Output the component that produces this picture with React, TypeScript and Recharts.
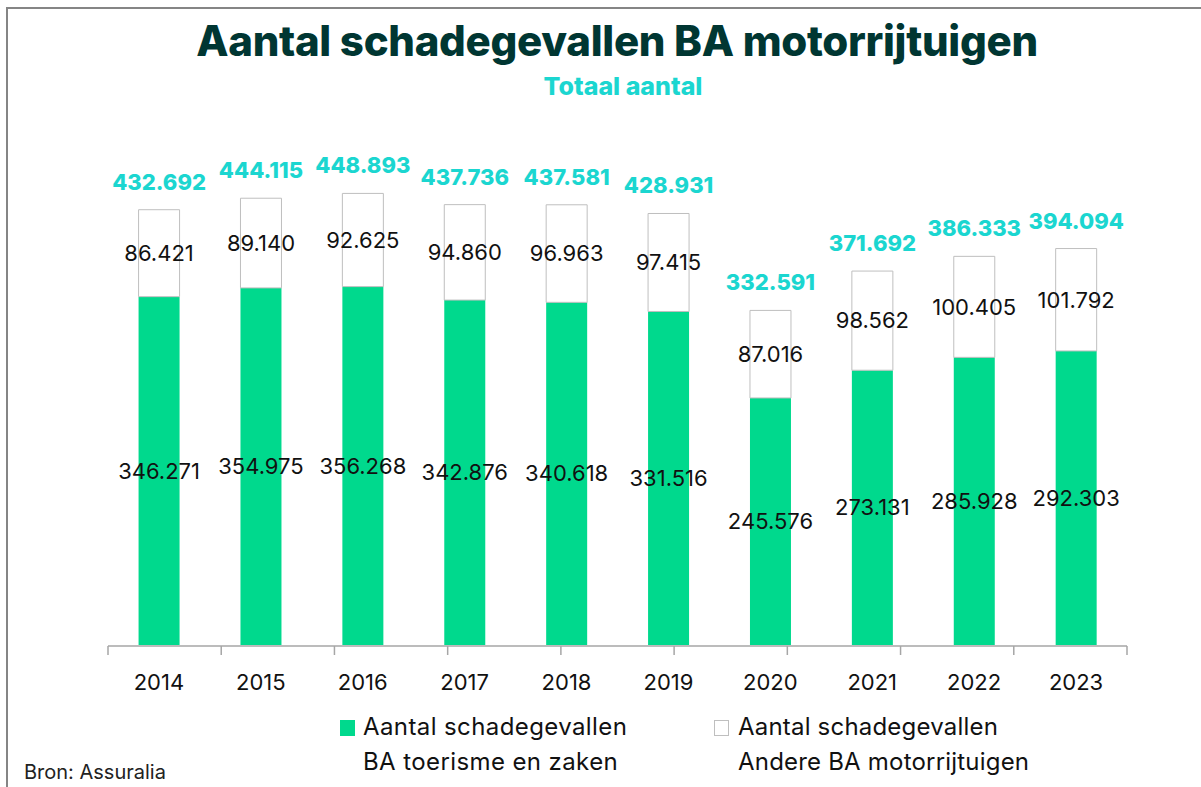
import { BarChart, Bar, XAxis, YAxis, LabelList } from "recharts";

// Aantal schadegevallen BA motorrijtuigen, 2014-2023 (bron: Assuralia)

const years = ["2014", "2015", "2016", "2017", "2018", "2019", "2020", "2021", "2022", "2023"];
const toerismeZaken = [346271, 354975, 356268, 342876, 340618, 331516, 245576, 273131, 285928, 292303];
const andereBA = [86421, 89140, 92625, 94860, 96963, 97415, 87016, 98562, 100405, 101792];
const totals = [432692, 444115, 448893, 437736, 437581, 428931, 332591, 371692, 386333, 394094];
const boundaryTicks = [0, 1, 2, 3, 4, 5, 6, 7, 8, 9, 10];

const data = years.map((year, i) => ({
  year,
  toerisme: toerismeZaken[i],
  andere: andereBA[i],
  total: totals[i],
}));

const GREEN = "#00D98D";
const CYAN = "#1BD6D0";
const DARK = "#003632";
const FONT = "Inter, 'Open Sans', sans-serif";

const fmt = (v: unknown) => String(v).replace(/\B(?=(\d{3})+(?!\d))/g, ".");

export default function App() {
  return (
    <div
      style={{
        position: "absolute",
        left: 0,
        top: 0,
        width: 1201,
        height: 787,
        overflow: "hidden",
        background: "#fff",
        fontFamily: FONT,
      }}
    >
      <div
        style={{
          position: "absolute",
          left: 6,
          top: 7,
          width: 1400,
          height: 1000,
          border: "2px solid #858585",
        }}
      />
      <div
        style={{
          position: "absolute",
          left: 0,
          width: 1234,
          top: 15,
          textAlign: "center",
          fontSize: 42,
          fontWeight: 800,
          color: DARK,
          letterSpacing: -0.3,
        }}
      >
        Aantal schadegevallen BA motorrijtuigen
      </div>
      <div
        style={{
          position: "absolute",
          left: 0,
          width: 1246,
          top: 71,
          textAlign: "center",
          fontSize: 25,
          fontWeight: 800,
          color: CYAN,
        }}
      >
        Totaal aantal
      </div>

      <div style={{ position: "absolute", left: 0, top: 0 }}>
        <BarChart
          width={1201}
          height={787}
          data={data}
          margin={{ top: 142, right: 74, bottom: 111, left: 108 }}
          barCategoryGap="30%"
        >
          <XAxis
            dataKey="year"
            height={1}
            axisLine={false}
            tickLine={false}
            tickSize={0}
            tickMargin={29}
            tick={{ fill: "#111", fontSize: 22, fontFamily: FONT }}
          />
          <XAxis
            xAxisId="edges"
            type="number"
            domain={[0, 10]}
            ticks={boundaryTicks}
            height={30}
            axisLine={{ stroke: "#A6A6A6", strokeWidth: 1.5 }}
            tickLine={{ stroke: "#A6A6A6", strokeWidth: 1.5 }}
            tickSize={9}
            tickFormatter={() => ""}
          />
          <YAxis hide domain={[0, 500000]} />
          <Bar dataKey="toerisme" stackId="a" fill={GREEN} isAnimationActive={false}>
            <LabelList
              dataKey="toerisme"
              position="center"
              formatter={fmt}
              fill="#111"
              fontSize={22}
              fontFamily={FONT}
            />
          </Bar>
          <Bar
            dataKey="andere"
            stackId="a"
            fill="#fff"
            stroke="#BFBFBF"
            strokeWidth={1}
            isAnimationActive={false}
          >
            <LabelList
              dataKey="andere"
              position="center"
              formatter={fmt}
              fill="#111"
              fontSize={22}
              fontFamily={FONT}
            />
            <LabelList
              dataKey="total"
              position="top"
              offset={20}
              formatter={fmt}
              fill={CYAN}
              fontSize={22}
              fontWeight={800}
              fontFamily={FONT}
            />
          </Bar>
        </BarChart>
      </div>

      <div style={{ position: "absolute", left: 340, top: 720, width: 15, height: 16, background: GREEN }} />
      <div
        style={{
          position: "absolute",
          left: 363,
          top: 709,
          fontSize: 24,
          letterSpacing: 0.4,
          lineHeight: "35px",
          color: "#111",
        }}
      >
        Aantal schadegevallen
        <br />
        BA toerisme en zaken
      </div>
      <div
        style={{
          position: "absolute",
          left: 714,
          top: 720,
          width: 13,
          height: 14,
          border: "1px solid #BFBFBF",
          background: "#fff",
        }}
      />
      <div
        style={{
          position: "absolute",
          left: 738,
          top: 709,
          fontSize: 24,
          letterSpacing: 0.2,
          lineHeight: "35px",
          color: "#111",
        }}
      >
        Aantal schadegevallen
        <br />
        Andere BA motorrijtuigen
      </div>
      <div style={{ position: "absolute", left: 24, top: 760, fontSize: 20, color: "#222" }}>Bron: Assuralia</div>
    </div>
  );
}
